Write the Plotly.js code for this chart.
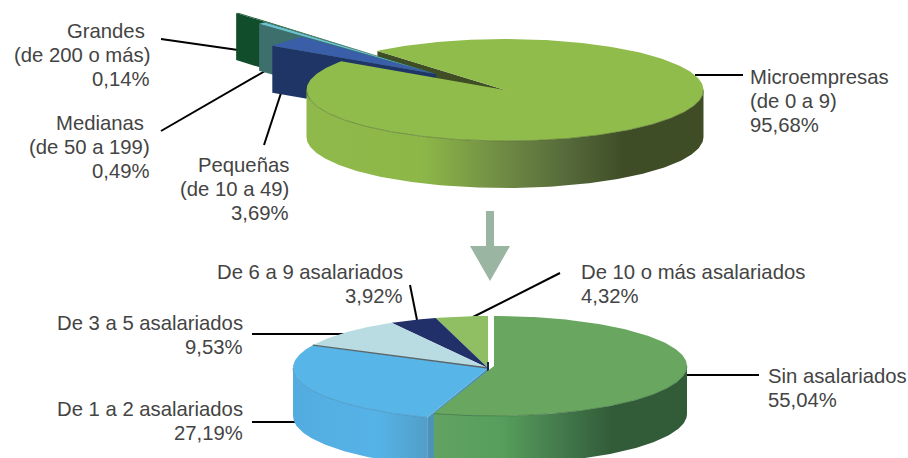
<!DOCTYPE html>
<html>
<head>
<meta charset="utf-8">
<script src="https://cdn.plot.ly/plotly-3.0.1.min.js"></script>
<style>html,body{margin:0;padding:0;background:#fff}#chart{width:908px;height:458px}</style>
</head>
<body>
<div id="chart"></div>
<script>
// --- data ---
const topNames = ['Microempresas<br>(de 0 a 9)', 'Pequeñas<br>(de 10 a 49)', 'Medianas\u00A0<br>(de 50 a 199)', 'Grandes\u00A0<br>(de 200 o más)'];
const topValues = [95.68, 3.69, 0.49, 0.14];
const bottomNames = ['Sin asalariados', 'De 1 a 2 asalariados', 'De 3 a 5 asalariados', 'De 6 a 9 asalariados', 'De 10 o más asalariados'];
const bottomValues = [55.04, 27.19, 9.53, 3.92, 4.32];

// --- styles ---
const topFaces = ['#8fbc4b', '#3a5ea8', '#6ec1d1', '#1c5a3a'];
const topPanels = ['#3f4e25', '#1f3566', '#3d6f6c', '#114d2b'];
const bottomFaces = ['#69a660', '#57b5e8', '#b9dbe2', '#22306a', '#8fbe63'];
const topGeo = {cx: 505, cy: 90, rx: 198.5, ry: 51, depth: 47, start: 320};
const wedgeApex = {x: 436, y: 74};
const wedgeRx = [0, 1.0, 1.325, 1.55];
const wedgeRy = [0, 0.98, 1.33, 1.57];
const bottomGeo = {cx: 488, cy: 368, rx: 195, ry: 52, depth: 48, start: 0};
const greenShift = {x: 6, y: -2};
const grad = (x0, x1, stops) => ({type: 'horizontal', start: x0, stop: x1, colorscale: stops});
const mainWall = grad(306, 703, [[0, '#8fba4b'], [0.29, '#8db848'], [0.5, '#6f8a44'], [0.66, '#55693a'], [0.8, '#3f4d26'], [1, '#3f4d26']]);
const greenWall = grad(433, 687, [[0, '#62a263'], [0.27, '#579e5c'], [0.5, '#447a4c'], [0.7, '#325c38'], [1, '#325c38']]);
const blueWall = grad(293, 433, [[0, '#53ace0'], [0.6, '#56b3e7'], [1, '#519cc5']]);

// --- geometry helpers (all marks derive from the values) ---
const rad = d => d * Math.PI / 180;
const pt = (g, a) => [g.cx + g.rx * Math.sin(rad(a)), g.cy - g.ry * Math.cos(rad(a))];
function arc(g, a0, a1) {
  const n = Math.max(2, Math.ceil(Math.abs(a1 - a0)));
  const out = [];
  for (let i = 0; i <= n; i++) out.push(pt(g, a0 + (a1 - a0) * i / n));
  return out;
}
const traces = [];
function poly(points, fill, gradient) {
  const t = {
    type: 'scatter', mode: 'lines', fill: 'toself',
    x: points.map(p => p[0]).concat(points[0][0]),
    y: points.map(p => p[1]).concat(points[0][1]),
    line: {width: 0, color: fill || '#000'},
    hoverinfo: 'skip', showlegend: false
  };
  if (gradient) t.fillgradient = gradient; else t.fillcolor = fill;
  traces.push(t);
}
function wire(points, color, width) {
  traces.push({type: 'scatter', mode: 'lines', x: points.map(p => p[0]), y: points.map(p => p[1]),
    line: {width: width, color: color}, hoverinfo: 'skip', showlegend: false});
}
const sector = (g, a0, a1) => [[g.cx, g.cy]].concat(arc(g, a0, a1));
const wall = (g, a0, a1, gradient, fill) => {
  const up = arc(g, a0, a1);
  const down = up.map(p => [p[0], p[1] + g.depth]).reverse();
  poly(up.concat(down), fill, gradient);
};
const radial = (g, a, fill) => {
  const p = pt(g, a);
  poly([[g.cx, g.cy], p, [p[0], p[1] + g.depth], [g.cx, g.cy + g.depth]], fill);
};

// --- upper pie ---
const topAngles = [];
let run = topGeo.start;
topValues.forEach(v => { topAngles.push([run, run + v * 3.6]); run += v * 3.6; });
const mainA = topAngles[0];
radial(topGeo, mainA[0], topPanels[0]);                 // inner wall seen through the gap
for (let i = topValues.length - 1; i >= 1; i--) {       // exploded slices, back to front
  const g = {cx: wedgeApex.x, cy: wedgeApex.y, rx: topGeo.rx * wedgeRx[i], ry: topGeo.ry * wedgeRy[i], depth: topGeo.depth};
  const a = topAngles[i].map(d => d % 360);
  radial(g, a[0], topPanels[i]);
  poly(sector(g, a[0], a[1]), topFaces[i]);
}
wall(topGeo, 90 + 360, 270 + 360, mainWall);
poly(sector(topGeo, mainA[0], mainA[1]), topFaces[0]);
wire(arc(topGeo, 90 + 360, 270 + 360), '#55692f', 0.6);

// --- lower pie ---
const botAngles = [];
run = bottomGeo.start;
bottomValues.forEach(v => { botAngles.push([run, run + v * 3.6]); run += v * 3.6; });
wall(bottomGeo, botAngles[1][0], 270, blueWall);
radial(bottomGeo, botAngles[1][0], '#4d93b8');
for (let i = 4; i >= 1; i--) poly(sector(bottomGeo, botAngles[i][0], botAngles[i][1]), bottomFaces[i]);
wire([[bottomGeo.cx, bottomGeo.cy], pt(bottomGeo, botAngles[1][1])], '#5a6668', 1.4);
wire([[bottomGeo.cx, bottomGeo.cy - 6], [bottomGeo.cx, bottomGeo.cy + 3]], '#1a2550', 2);
wire(arc(bottomGeo, botAngles[1][0], 270), '#3f86b0', 0.6);
const greenGeo = Object.assign({}, bottomGeo, {cx: bottomGeo.cx + greenShift.x, cy: bottomGeo.cy + greenShift.y, rx: 193, ry: 50});
wall(greenGeo, 90, botAngles[0][1], greenWall);
poly(sector(greenGeo, botAngles[0][0], botAngles[0][1]), bottomFaces[0]);
wire(arc(greenGeo, 90, botAngles[0][1]), '#3e6f42', 0.6);

// --- labels: one annotation per line, so the line pitch follows the reference ---
const pct = v => v.toFixed(2).replace('.', ',') + '%';
const labelFont = {family: '"Liberation Sans", Arial, sans-serif', size: 20.3, color: '#444444'};
const linePitch = 23.6;
const annotations = [];
function label(name, value, x, yMid, anchor) {
  const lines = (name + '<br>' + pct(value)).split('<br>');
  lines.forEach((text, i) => annotations.push({
    text: text, x: x, y: yMid + (i - (lines.length - 1) / 2) * linePitch, xref: 'x', yref: 'y',
    xanchor: anchor, yanchor: 'middle', align: anchor, showarrow: false, font: labelFont, borderpad: 0
  }));
}
label(topNames[0], topValues[0], 749, 101, 'left');
label(topNames[3], topValues[3], 151, 55, 'right');
label(topNames[2], topValues[2], 151, 147, 'right');
label(topNames[1], topValues[1], 290, 189, 'right');
label(bottomNames[3], bottomValues[3], 404, 284, 'right');
label(bottomNames[4], bottomValues[4], 580, 284, 'left');
label(bottomNames[2], bottomValues[2], 244, 335, 'right');
label(bottomNames[1], bottomValues[1], 244, 421, 'right');
label(bottomNames[0], bottomValues[0], 767, 388, 'left');

// --- leader lines and the arrow ---
const leader = (x0, y0, x1, y1) => ({type: 'line', layer: 'below', xref: 'x', yref: 'y', x0, y0, x1, y1, line: {color: '#000', width: 2}});
const shapes = [
  leader(695, 75, 743, 75), leader(161, 39, 238, 50), leader(161, 131, 265, 71), leader(264, 145, 282, 90),
  leader(252, 334, 345, 334), leader(252, 422, 298, 422), leader(410, 285, 417, 320), leader(560, 273, 473, 317),
  leader(685, 375, 759, 375),
  {type: 'path', layer: 'below', xref: 'x', yref: 'y', fillcolor: '#9bb5a3', line: {width: 0},
   path: 'M486,211 L494,211 L494,246 L510,246 L490,281 L470,246 L486,246 Z'}
];

Plotly.newPlot('chart', traces, {
  width: 908, height: 458, margin: {l: 0, r: 0, t: 0, b: 0},
  paper_bgcolor: '#fff', plot_bgcolor: '#fff', showlegend: false,
  xaxis: {range: [0, 908], visible: false, fixedrange: true},
  yaxis: {range: [458, 0], visible: false, fixedrange: true},
  annotations: annotations, shapes: shapes
}, {displayModeBar: false, staticPlot: true});
</script>
</body>
</html>
